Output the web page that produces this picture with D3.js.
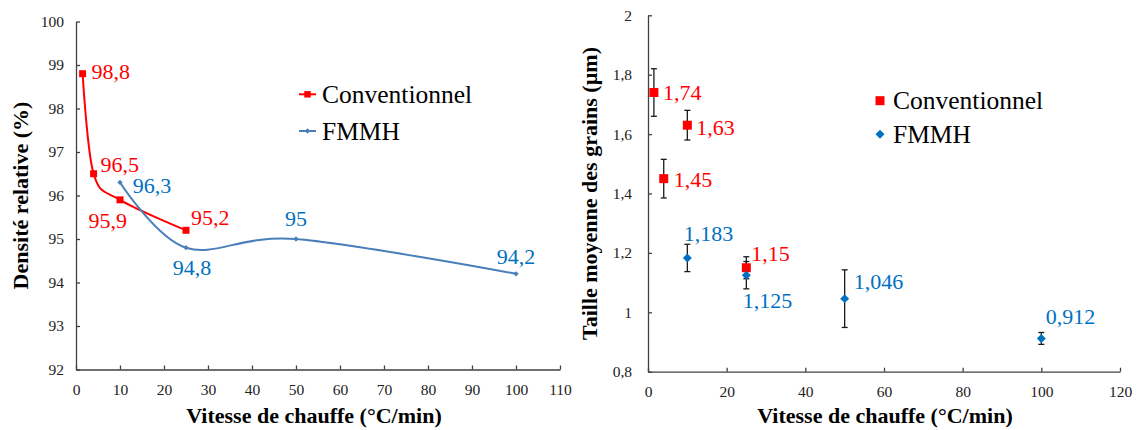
<!DOCTYPE html>
<html><head><meta charset="utf-8">
<script src="https://cdn.jsdelivr.net/npm/d3@7"></script>
<style>
html,body{margin:0;padding:0;background:#fff;}
svg text{font-family:"Liberation Serif","Times New Roman","DejaVu Serif",serif !important;}
</style></head>
<body>
<svg id="chart" width="1137" height="430"></svg>
<script>
// ---------- data ----------
const seriesNames = ["Conventionnel", "FMMH"];
// Left chart: relative density (%)
const convRate = [1.5, 4, 10, 25];
const convDensity = [98.8, 96.5, 95.9, 95.2];
const fmmhRate = [10, 25, 50, 100];
const fmmhDensity = [96.3, 94.8, 95, 94.2];
// Right chart: mean grain size (µm) with error bars
const convGrain = [1.74, 1.45, 1.63, 1.15];
const convGrainErr = [0.08, 0.065, 0.05, 0.037];
const fmmhGrain = [1.183, 1.125, 1.046, 0.912];
const fmmhGrainErr = [0.046, 0.046, 0.097, 0.02];
// ticks
const leftXTicks = [0,10,20,30,40,50,60,70,80,90,100,110];
const leftYTicks = [92,93,94,95,96,97,98,99,100];
const rightXTicks = [0,20,40,60,80,100,120];
const rightYTicks = [0.8,1,1.2,1.4,1.6,1.8,2];
const xTitle = "Vitesse de chauffe (°C/min)";
const leftYTitle = "Densité relative (%)";
const rightYTitle = "Taille moyenne des grains (µm)";

// ---------- label placement (style, px) ----------
const convDensLabelPos = [[9,-2,"start"],[7,-9.5,"start"],[7,21,"end"],[5,-12.7,"start"]];
const fmmhDensLabelPos = [[12.7,3,"start"],[-13.3,20,"start"],[0,-20,"middle"],[0,-17.6,"middle"]];
const convGrainLabelPos = [[9,0,"start"],[10,1,"start"],[9,2,"start"],[5,-14.7,"start"]];
const fmmhGrainLabelPos = [[-3.6,-24,"start"],[-3.6,25.5,"start"],[9,-17,"start"],[4.4,-22,"start"]];

const RED = "#FF0000", BLUE_LINE = "#4A7EBB", BLUE = "#0070C0", AXIS = "#404040";
const FONT = '"Liberation Serif", "Times New Roman", serif';
const fmt = v => String(v).replace(".", ",");
const svg = d3.select("#chart").attr("font-family", FONT);

function styleAxis(g){
  g.attr("font-family", FONT);
  g.selectAll("path.domain").attr("stroke", AXIS).attr("stroke-width", 1.3);
  g.selectAll(".tick line").attr("stroke", AXIS).attr("stroke-width", 1.3);
  g.selectAll(".tick text").attr("fill", "#222").style("font-size", "15.5px")
    .style("font-family", FONT);
}

// ================= LEFT CHART =================
const xL = d3.scaleLinear().domain([0,110]).range([76,560]);
const yL = d3.scaleLinear().domain([92,100]).range([369.5,21.5]);

const gLx = svg.append("g").attr("transform", `translate(0,${yL(92)})`)
  .call(d3.axisBottom(xL).tickValues(leftXTicks).tickSizeInner(-4).tickSizeOuter(0).tickPadding(14));
styleAxis(gLx);
const gLy = svg.append("g").attr("transform", `translate(${xL(0)},0)`)
  .call(d3.axisLeft(yL).tickValues(leftYTicks).tickSizeInner(-4).tickSizeOuter(0).tickPadding(12));
styleAxis(gLy);

const lineL = d3.line().x(d => xL(d[0])).y(d => yL(d[1])).curve(d3.curveCardinal.tension(0));
const convPts = convRate.map((x,i) => [x, convDensity[i]]);
const fmmhPts = fmmhRate.map((x,i) => [x, fmmhDensity[i]]);

svg.append("path").datum(convPts).attr("d", lineL).attr("fill","none").attr("stroke",RED).attr("stroke-width",2);
svg.append("path").datum(fmmhPts).attr("d", lineL).attr("fill","none").attr("stroke",BLUE_LINE).attr("stroke-width",2);

const sq = d3.symbol().type(d3.symbolSquare);
// diamond = square rotated 45°
const diaPath = s => d3.symbol().type(d3.symbolSquare).size(s)();

svg.selectAll(".mConvL").data(convPts).enter().append("path")
  .attr("d", sq.size(49)()).attr("fill", RED)
  .attr("transform", d => `translate(${xL(d[0])},${yL(d[1])})`);
svg.selectAll(".mFmmhL").data(fmmhPts).enter().append("path")
  .attr("d", diaPath(14)).attr("fill", BLUE_LINE)
  .attr("transform", d => `translate(${xL(d[0])},${yL(d[1])}) rotate(45)`);

function labels(pts, pos, xs, ys, color){
  svg.append("g").selectAll("text").data(pts).enter().append("text")
    .attr("x", (d,i) => xs(d[0]) + pos[i][0])
    .attr("y", (d,i) => ys(d[1]) + pos[i][1])
    .attr("dy", "0.34em")
    .attr("text-anchor", (d,i) => pos[i][2])
    .attr("fill", color).style("font-size","22px").style("font-family", FONT)
    .text(d => fmt(d[1]));
}
labels(convPts, convDensLabelPos, xL, yL, RED);
labels(fmmhPts, fmmhDensLabelPos, xL, yL, BLUE);

// legend left
const legL = svg.append("g");
[[RED, sq.size(42)(), 94.3, ""],[BLUE_LINE, diaPath(14), 131, " rotate(45)"]].forEach((s,i) => {
  legL.append("line").attr("x1",299).attr("x2",316).attr("y1",s[2]).attr("y2",s[2])
    .attr("stroke", s[0]).attr("stroke-width", 2);
  legL.append("path").attr("d", s[1]).attr("fill", s[0]).attr("transform", `translate(307.5,${s[2]})${s[3]}`);
  legL.append("text").attr("x", 322).attr("y", s[2]).attr("dy","0.34em")
    .style("font-size","25.5px").style("font-family", FONT).attr("fill","#000").text(seriesNames[i]);
});

// axis titles left
svg.append("text").attr("x", 314).attr("y", 423).attr("text-anchor","middle")
  .style("font-size","22px").style("font-weight","bold").style("font-family", FONT).text(xTitle);
svg.append("text").attr("transform", `translate(28,${(yL(92)+yL(100))/2}) rotate(-90)`)
  .attr("text-anchor","middle").style("font-size","22px").style("font-weight","bold").style("font-family", FONT).text(leftYTitle);

// ================= RIGHT CHART =================
const xR = d3.scaleLinear().domain([0,120]).range([648,1120]);
const yR = d3.scaleLinear().domain([0.8,2]).range([371.7,15.3]);

const gRx = svg.append("g").attr("transform", `translate(0,${yR(0.8)})`)
  .call(d3.axisBottom(xR).tickValues(rightXTicks).tickSizeInner(-4).tickSizeOuter(0).tickPadding(14)
    .tickFormat(d => fmt(d)));
styleAxis(gRx);
const gRy = svg.append("g").attr("transform", `translate(${xR(0)},0)`)
  .call(d3.axisLeft(yR).tickValues(rightYTicks).tickSizeInner(-4).tickSizeOuter(0).tickPadding(16)
    .tickFormat(d => fmt(+d.toFixed(1))));
styleAxis(gRy);

const convG = convRate.map((x,i) => [x, convGrain[i], convGrainErr[i]]);
const fmmhG = fmmhRate.map((x,i) => [x, fmmhGrain[i], fmmhGrainErr[i]]);

function errBars(pts){
  const g = svg.append("g").attr("stroke","#1a1a1a").attr("stroke-width",1.3);
  pts.forEach(d => {
    const x = xR(d[0]), y1 = yR(d[1]-d[2]), y2 = yR(d[1]+d[2]);
    g.append("line").attr("x1",x).attr("x2",x).attr("y1",y1).attr("y2",y2);
    g.append("line").attr("x1",x-3).attr("x2",x+3).attr("y1",y1).attr("y2",y1);
    g.append("line").attr("x1",x-3).attr("x2",x+3).attr("y1",y2).attr("y2",y2);
  });
}
errBars(fmmhG);
errBars(convG);

svg.selectAll(".mConvR").data(convG).enter().append("path")
  .attr("d", sq.size(81)()).attr("fill", RED)
  .attr("transform", d => `translate(${xR(d[0])},${yR(d[1])})`);
svg.selectAll(".mFmmhR").data(fmmhG).enter().append("path")
  .attr("d", diaPath(40)).attr("fill", BLUE)
  .attr("transform", d => `translate(${xR(d[0])},${yR(d[1])}) rotate(45)`);

labels(convG, convGrainLabelPos, xR, yR, RED);
labels(fmmhG, fmmhGrainLabelPos, xR, yR, BLUE);

// legend right
const legR = svg.append("g");
[[RED, sq.size(81)(), 100.7, ""],[BLUE, diaPath(40), 134.3, " rotate(45)"]].forEach((s,i) => {
  legR.append("path").attr("d", s[1]).attr("fill", s[0]).attr("transform", `translate(880,${s[2]})${s[3]}`);
  legR.append("text").attr("x", 893).attr("y", s[2]).attr("dy","0.34em")
    .style("font-size","25.5px").style("font-family", FONT).attr("fill","#000").text(seriesNames[i]);
});

svg.append("text").attr("x", 885).attr("y", 423).attr("text-anchor","middle")
  .style("font-size","22px").style("font-weight","bold").style("font-family", FONT).text(xTitle);
svg.append("text").attr("transform", `translate(597,${(yR(0.8)+yR(2))/2}) rotate(-90)`)
  .attr("text-anchor","middle").style("font-size","22px").style("font-weight","bold").style("font-family", FONT).text(rightYTitle);
</script>
</body></html>
